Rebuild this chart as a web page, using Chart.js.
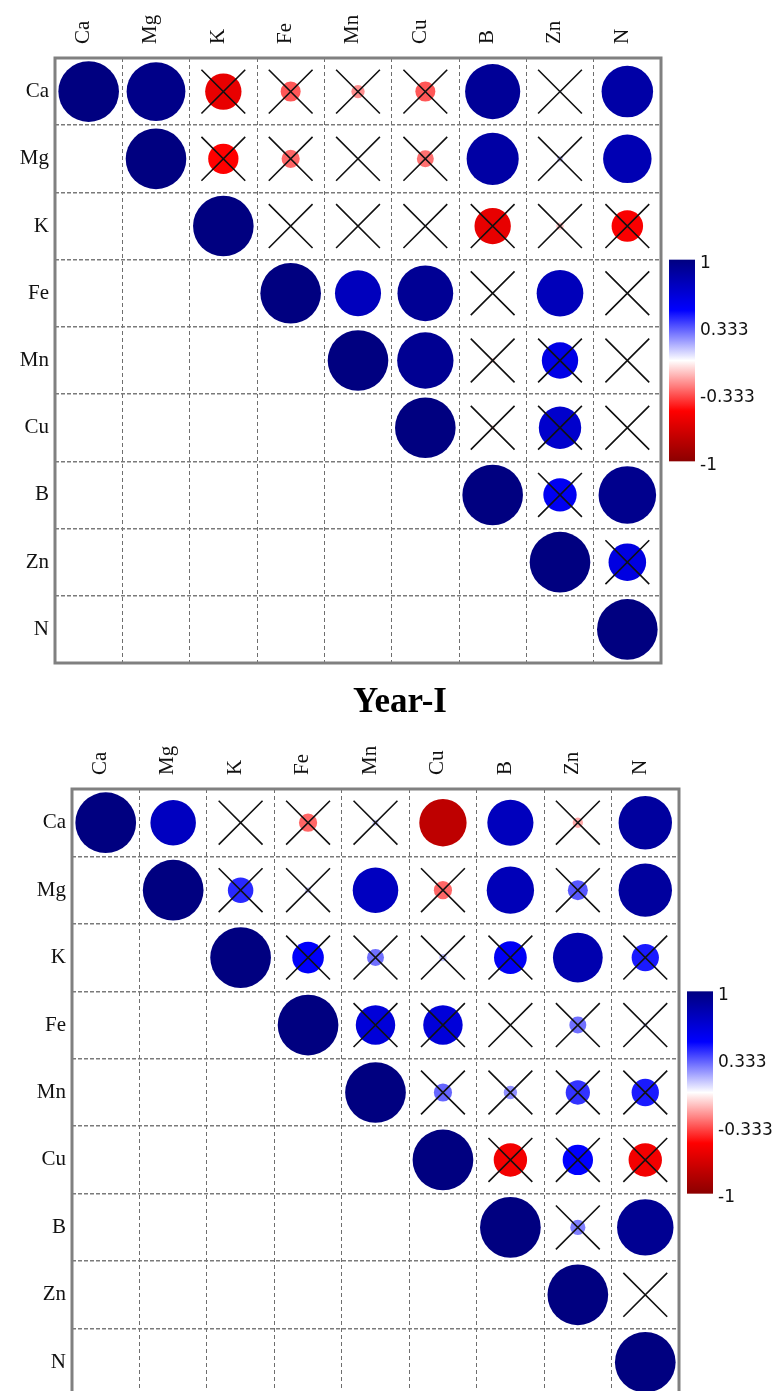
<!DOCTYPE html>
<html>
<head>
<meta charset="utf-8">
<script src="https://cdn.jsdelivr.net/npm/chart.js@4.4.0/dist/chart.umd.min.js"></script>
<style>
  html, body { margin: 0; padding: 0; background: #fff; overflow: hidden; }
  body { width: 783px; height: 1391px; position: relative; }
  #chart1 { position: absolute; left: 0; top: 0; }
  #chart2 { position: absolute; left: 0; top: 700px; }
  #title1 {
    position: absolute; left: 17px; width: 766px; top: 681px;
    text-align: center; line-height: 35px;
    font: bold 35px 'Liberation Serif', 'Times New Roman', serif; color: #000;
  }
</style>
</head>
<body>
<canvas id="chart1" width="783" height="690"></canvas>
<div id="title1">Year-I</div>
<canvas id="chart2" width="783" height="720"></canvas>
<script>
const elements = ['Ca', 'Mg', 'K', 'Fe', 'Mn', 'Cu', 'B', 'Zn', 'N'];

// upper triangle, each row starts at the diagonal
const year1Corr = [
  [1, 0.97, -0.6, -0.33, -0.22, -0.33, 0.91, 0.05, 0.85],
  [1, -0.5, -0.3, -0.02, -0.28, 0.86, 0.1, 0.8],
  [1, 0.03, 0.0, 0.05, -0.6, -0.12, -0.52],
  [1, 0.76, 0.92, 0.0, 0.77, 0.0],
  [1, 0.93, -0.08, 0.6, 0.0],
  [1, -0.08, 0.7, 0.0],
  [1, 0.55, 0.95],
  [1, 0.62],
  [1]
];
// 1 = not significant (crossed out)
const year1Cross = [
  [0, 0, 1, 1, 1, 1, 0, 1, 0],
  [0, 1, 1, 1, 1, 0, 1, 0],
  [0, 1, 1, 1, 1, 1, 1],
  [0, 0, 0, 1, 0, 1],
  [0, 0, 1, 1, 1],
  [0, 1, 1, 1],
  [0, 1, 0],
  [0, 1],
  [0]
];

const year2Corr = [
  [1, 0.75, 0.05, -0.3, 0.1, -0.78, 0.76, -0.17, 0.88],
  [1, 0.42, 0.1, 0.75, -0.3, 0.78, 0.33, 0.88],
  [1, 0.52, 0.28, 0.12, 0.54, 0.82, 0.45],
  [1, 0.65, 0.65, 0.0, 0.28, 0.08],
  [1, 0.3, 0.22, 0.4, 0.45],
  [1, -0.55, 0.5, -0.55],
  [1, 0.25, 0.93],
  [1, 0.0],
  [1]
];
const year2Cross = [
  [0, 0, 1, 1, 1, 0, 0, 1, 0],
  [0, 1, 1, 0, 1, 0, 1, 0],
  [0, 1, 1, 1, 1, 0, 1],
  [0, 1, 1, 1, 1, 1],
  [0, 1, 1, 1, 1],
  [0, 1, 1, 1],
  [0, 1, 0],
  [0, 1],
  [0]
];

const colorbarTicks = [1, 0.333, -0.333, -1];
const rampValues = [-1, -0.5, 0, 0.5, 1];
const rampColors = [[139, 0, 0], [255, 0, 0], [255, 255, 255], [0, 0, 255], [0, 0, 128]];

function colorFor(v) {
  let i = 0;
  while (i < rampValues.length - 2 && v > rampValues[i + 1]) i++;
  const t = (v - rampValues[i]) / (rampValues[i + 1] - rampValues[i]);
  const c = rampColors[i].map((a, k) => Math.round(a + (rampColors[i + 1][k] - a) * t));
  return `rgb(${c[0]},${c[1]},${c[2]})`;
}

function cellSize(chart) {
  const a = chart.chartArea;
  return a ? (a.right - a.left) / elements.length : 0;
}

function buildPoints(corr, cross, onlyCrossed) {
  const pts = [];
  corr.forEach((row, i) => {
    row.forEach((v, k) => {
      if (onlyCrossed && !cross[i][k]) return;
      pts.push({ x: elements[i + k], y: elements[i], v: v });
    });
  });
  return pts;
}

const framePlugin = {
  id: 'frameAndBar',
  afterDraw(chart) {
    const { ctx, chartArea: a } = chart;
    ctx.save();
    ctx.strokeStyle = '#808080';
    ctx.lineWidth = 3;
    ctx.strokeRect(a.left, a.top, a.right - a.left, a.bottom - a.top);

    // colour legend
    const h = a.bottom - a.top;
    const x0 = a.right + 8, w = 26;
    const y0 = a.top + h / 3, y1 = a.top + 2 * h / 3;
    const grad = ctx.createLinearGradient(0, y0, 0, y1);
    for (let s = 0; s <= 40; s++) {
      grad.addColorStop(s / 40, colorFor(1 - 2 * s / 40));
    }
    ctx.fillStyle = grad;
    ctx.fillRect(x0, y0, w, y1 - y0);

    ctx.fillStyle = '#111';
    ctx.font = '17px "DejaVu Sans", sans-serif';
    ctx.textBaseline = 'middle';
    ctx.textAlign = 'left';
    colorbarTicks.forEach(t => {
      const y = y0 + (1 - t) / 2 * (y1 - y0) + 4;
      ctx.fillText(String(t), x0 + w + 5, y);
    });
    ctx.restore();
  }
};

function makeChart(id, corr, cross, axisW, axisH, padRight, padBottom) {
  const tickFont = { family: "'Liberation Serif', 'Times New Roman', serif", size: 21 };
  return new Chart(document.getElementById(id), {
    type: 'scatter',
    data: {
      datasets: [
        {
          data: buildPoints(corr, cross, true),
          order: 0,
          pointStyle: 'crossRot',
          pointRadius: ctx => cellSize(ctx.chart) * 0.46,
          pointBorderColor: '#111',
          pointBorderWidth: 1.6,
          pointBackgroundColor: 'rgba(0,0,0,0)'
        },
        {
          data: buildPoints(corr, cross, false),
          order: 1,
          pointStyle: 'circle',
          pointRadius: ctx => cellSize(ctx.chart) * 0.45 * Math.abs(ctx.raw.v),
          pointBorderWidth: 0,
          pointBackgroundColor: ctx => colorFor(ctx.raw.v)
        }
      ]
    },
    options: {
      responsive: false,
      animation: false,
      devicePixelRatio: 1,
      events: [],
      layout: { padding: { left: 0, top: 0, right: padRight, bottom: padBottom } },
      plugins: { legend: { display: false }, tooltip: { enabled: false } },
      scales: {
        x: {
          type: 'category',
          labels: elements,
          position: 'top',
          offset: true,
          grid: { offset: true, drawTicks: false, color: '#6e6e6e', lineWidth: 1 },
          border: { display: false, dash: [4, 3] },
          ticks: {
            autoSkip: false, minRotation: 90, maxRotation: 90, padding: 14,
            labelOffset: 20, color: '#111', font: tickFont
          },
          afterFit: s => { s.height = axisH; }
        },
        y: {
          type: 'category',
          labels: elements,
          offset: true,
          grid: { offset: true, drawTicks: false, color: '#7a7a7a', lineWidth: 1.5 },
          border: { display: false, dash: [4, 2] },
          ticks: { autoSkip: false, padding: 6, color: '#111', font: tickFont },
          afterFit: s => { s.width = axisW; }
        }
      }
    },
    plugins: [framePlugin]
  });
}

makeChart('chart1', year1Corr, year1Cross, 55, 58, 122, 27);
makeChart('chart2', year2Corr, year2Cross, 72, 89, 104, 24);
</script>
</body>
</html>
